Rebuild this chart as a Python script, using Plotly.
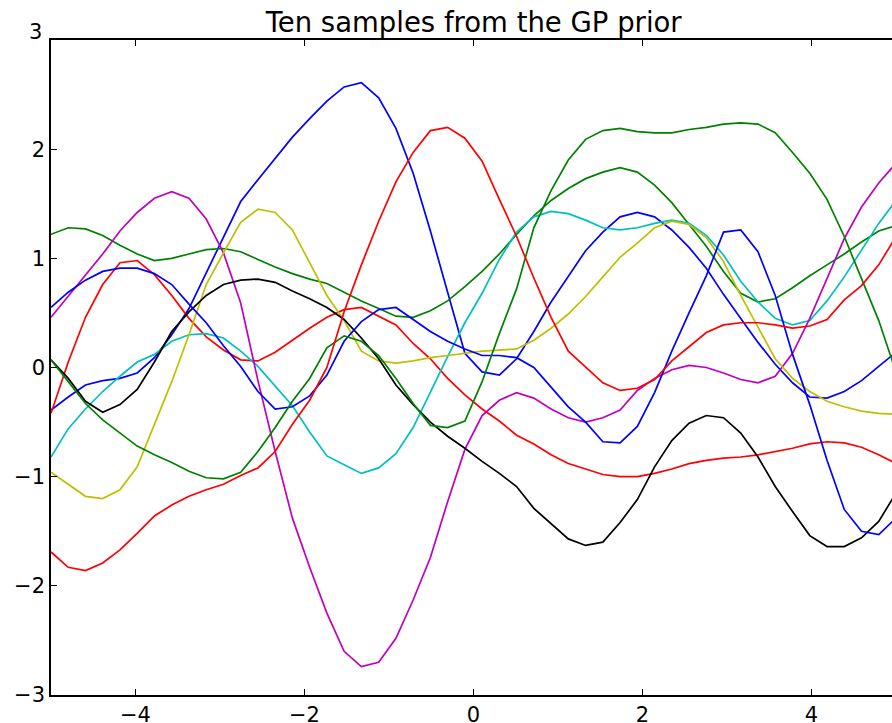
import plotly.graph_objects as go

# x grid (50 points from -5 to 5)
X = [-5.000, -4.796, -4.592, -4.388, -4.184, -3.980, -3.776, -3.571, -3.367, -3.163,
     -2.959, -2.755, -2.551, -2.347, -2.143, -1.939, -1.735, -1.531, -1.327, -1.122,
     -0.918, -0.714, -0.510, -0.306, -0.102, 0.102, 0.306, 0.510, 0.714, 0.918,
     1.122, 1.327, 1.531, 1.735, 1.939, 2.143, 2.347, 2.551, 2.755, 2.959,
     3.163, 3.367, 3.571, 3.776, 3.980, 4.184, 4.388, 4.592, 4.796, 5.000]

blue_a = [-0.39, -0.27, -0.16, -0.12, -0.10, -0.05, 0.09, 0.30, 0.54, 0.87,
          1.19, 1.52, 1.72, 1.91, 2.11, 2.28, 2.44, 2.57, 2.61, 2.47,
          2.19, 1.78, 1.25, 0.69, 0.13, -0.04, -0.07, 0.08, 0.33, 0.60,
          0.84, 1.07, 1.24, 1.38, 1.42, 1.38, 1.26, 1.10, 0.91, 0.67,
          0.45, 0.23, 0.03, -0.14, -0.27, -0.28, -0.22, -0.12, 0.01, 0.14]
green_a = [1.22, 1.28, 1.27, 1.21, 1.12, 1.04, 0.98, 1.00, 1.04, 1.08,
           1.09, 1.06, 0.99, 0.92, 0.86, 0.81, 0.77, 0.69, 0.61, 0.54,
           0.47, 0.46, 0.52, 0.61, 0.74, 0.88, 1.04, 1.22, 1.39, 1.53,
           1.64, 1.73, 1.79, 1.83, 1.79, 1.67, 1.51, 1.31, 1.11, 0.88,
           0.68, 0.60, 0.63, 0.73, 0.84, 0.94, 1.04, 1.15, 1.25, 1.30]
red_a = [-0.42, 0.05, 0.46, 0.76, 0.96, 0.98, 0.85, 0.66, 0.45, 0.28,
         0.16, 0.07, 0.06, 0.14, 0.25, 0.36, 0.46, 0.53, 0.55, 0.47,
         0.39, 0.22, 0.08, -0.10, -0.25, -0.38, -0.49, -0.62, -0.70, -0.80,
         -0.88, -0.93, -0.98, -1.00, -1.00, -0.97, -0.93, -0.88, -0.85, -0.83,
         -0.82, -0.80, -0.77, -0.74, -0.70, -0.68, -0.69, -0.73, -0.80, -0.88]
cyan = [-0.82, -0.56, -0.38, -0.22, -0.08, 0.05, 0.12, 0.24, 0.30, 0.31,
        0.27, 0.15, 0.01, -0.17, -0.35, -0.59, -0.81, -0.89, -0.97, -0.92,
        -0.79, -0.55, -0.22, 0.10, 0.41, 0.68, 0.99, 1.24, 1.38, 1.43,
        1.41, 1.35, 1.28, 1.26, 1.28, 1.32, 1.35, 1.32, 1.21, 1.03,
        0.79, 0.60, 0.45, 0.39, 0.43, 0.61, 0.83, 1.08, 1.32, 1.53]
magenta = [0.46, 0.65, 0.84, 1.04, 1.25, 1.42, 1.55, 1.61, 1.55, 1.36,
           1.05, 0.59, -0.12, -0.77, -1.38, -1.83, -2.25, -2.60, -2.74, -2.70,
           -2.48, -2.13, -1.74, -1.23, -0.75, -0.44, -0.30, -0.23, -0.28, -0.38,
           -0.46, -0.50, -0.46, -0.39, -0.21, -0.10, -0.02, 0.02, 0.00, -0.05,
           -0.11, -0.14, -0.08, 0.13, 0.45, 0.81, 1.18, 1.47, 1.69, 1.87]
yellow = [-0.96, -1.07, -1.18, -1.20, -1.12, -0.91, -0.53, -0.13, 0.30, 0.76,
          1.05, 1.33, 1.45, 1.42, 1.26, 0.96, 0.66, 0.43, 0.15, 0.06,
          0.04, 0.06, 0.09, 0.11, 0.13, 0.15, 0.16, 0.17, 0.25, 0.36,
          0.49, 0.65, 0.83, 1.01, 1.14, 1.28, 1.34, 1.31, 1.19, 0.97,
          0.66, 0.37, 0.08, -0.10, -0.22, -0.31, -0.36, -0.40, -0.42, -0.43]
black = [0.07, -0.10, -0.31, -0.41, -0.34, -0.20, 0.05, 0.33, 0.51, 0.66,
         0.76, 0.80, 0.81, 0.78, 0.70, 0.63, 0.55, 0.44, 0.27, 0.08,
         -0.16, -0.34, -0.50, -0.63, -0.74, -0.86, -0.97, -1.09, -1.29, -1.43,
         -1.57, -1.63, -1.60, -1.42, -1.21, -0.91, -0.67, -0.51, -0.44, -0.46,
         -0.60, -0.82, -1.09, -1.32, -1.54, -1.64, -1.64, -1.56, -1.41, -1.15]
blue_b = [0.55, 0.69, 0.80, 0.88, 0.91, 0.91, 0.86, 0.76, 0.58, 0.41,
          0.20, 0.01, -0.22, -0.38, -0.36, -0.26, -0.07, 0.24, 0.42, 0.53,
          0.55, 0.44, 0.33, 0.24, 0.17, 0.11, 0.11, 0.09, 0.00, -0.18,
          -0.36, -0.50, -0.68, -0.69, -0.54, -0.23, 0.15, 0.50, 0.84, 1.24,
          1.26, 1.06, 0.66, 0.12, -0.34, -0.85, -1.30, -1.50, -1.53, -1.38]
green_b = [0.07, -0.13, -0.33, -0.48, -0.60, -0.72, -0.80, -0.87, -0.95, -1.01,
           -1.02, -0.96, -0.77, -0.55, -0.31, -0.10, 0.18, 0.29, 0.24, 0.11,
           -0.10, -0.33, -0.53, -0.55, -0.49, -0.13, 0.31, 0.72, 1.28, 1.62,
           1.90, 2.09, 2.17, 2.19, 2.16, 2.15, 2.15, 2.18, 2.20, 2.23,
           2.24, 2.23, 2.15, 1.97, 1.78, 1.54, 1.20, 0.82, 0.43, -0.04]
red_b = [-1.69, -1.83, -1.86, -1.79, -1.67, -1.52, -1.36, -1.26, -1.18, -1.12,
         -1.07, -0.99, -0.92, -0.77, -0.52, -0.30, 0.00, 0.51, 0.94, 1.34,
         1.70, 1.97, 2.17, 2.20, 2.10, 1.89, 1.54, 1.20, 0.82, 0.46,
         0.15, 0.00, -0.14, -0.21, -0.19, -0.11, 0.06, 0.19, 0.32, 0.39,
         0.41, 0.41, 0.39, 0.36, 0.38, 0.44, 0.62, 0.75, 0.94, 1.20]

series = [blue_a, green_a, red_a, cyan, magenta, yellow, black, blue_b, green_b, red_b]
colors = ["#0000ff", "#008000", "#ff0000", "#00bfbf", "#bf00bf",
          "#bfbf00", "#000000", "#0000ff", "#008000", "#ff0000"]

Y_TICKS = [-3, -2, -1, 0, 1, 2, 3]
Y_TICKTEXT = ["\u22123", "\u22122", "\u22121", "0", "1", "2", ""]
TOP_LABEL = "3"
X_TICKS = [-4, -2, 0, 2, 4]

fig = go.Figure()
for ys, col in zip(series, colors):
    fig.add_trace(go.Scatter(x=X, y=ys, mode="lines",
                             line=dict(color=col, width=1.7),
                             showlegend=False, hoverinfo="skip"))

fig.update_layout(
    width=892, height=723,
    margin=dict(l=51, r=0, t=40, b=28, pad=0),
    paper_bgcolor="white", plot_bgcolor="white",
    font=dict(family="DejaVu Sans", size=21, color="black"),
    title=dict(text="Ten samples from the GP prior",
               font=dict(family="DejaVu Sans", size=27.5, color="black"),
               xref="container", x=0.531, xanchor="center",
               yref="container", y=1 - 22 / 723, yanchor="middle"),
)
# top y tick label sits slightly above its tick in the reference
fig.add_annotation(text=TOP_LABEL, xref="paper", yref="y", x=0, y=Y_TICKS[-1],
                   xanchor="right", yanchor="middle", xshift=-7, yshift=8,
                   showarrow=False, font=dict(family="DejaVu Sans", size=21, color="black"))
fig.update_xaxes(range=[-5, 4.953], tickvals=X_TICKS, showgrid=False, zeroline=False,
                 showline=True, linecolor="black", linewidth=1.5, mirror="ticks",
                 ticks="inside", ticklen=6, tickwidth=1, tickcolor="black",
                 automargin=False)
fig.update_yaxes(range=[-3, 3], tickvals=Y_TICKS, ticktext=Y_TICKTEXT,
                 showgrid=False, zeroline=False,
                 showline=True, linecolor="black", linewidth=1.5, mirror=False,
                 ticks="inside", ticklen=6, tickwidth=1, tickcolor="black",
                 automargin=False)

fig.write_html("out.html")
